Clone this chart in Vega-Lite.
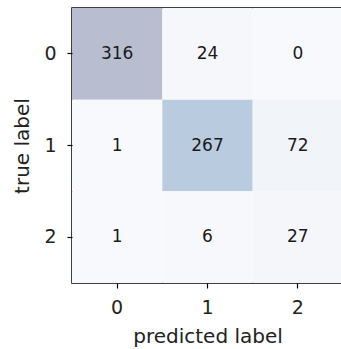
{
  "$schema": "https://vega.github.io/schema/vega-lite/v6.json",
  "width": 271,
  "height": 275,
  "autosize": {"type": "none"},
  "padding": {"left": 72, "top": 8, "right": 0, "bottom": 66},
  "background": "white",
  "data": {"values": [
    {"true": "0", "pred": "0", "count": 316},
    {"true": "0", "pred": "1", "count": 24},
    {"true": "0", "pred": "2", "count": 0},
    {"true": "1", "pred": "0", "count": 1},
    {"true": "1", "pred": "1", "count": 267},
    {"true": "1", "pred": "2", "count": 72},
    {"true": "2", "pred": "0", "count": 1},
    {"true": "2", "pred": "1", "count": 6},
    {"true": "2", "pred": "2", "count": 27}
  ]},
  "encoding": {
    "x": {"field": "pred", "type": "ordinal", "title": "predicted label",
      "scale": {"paddingInner": 0, "paddingOuter": 0},
      "axis": {"labelAngle": 0, "domain": false, "tickColor": "black", "tickSize": 5, "tickWidth": 1.2,
        "labelFontSize": 19, "labelColor": "#222", "labelFont": "DejaVu Sans", "labelPadding": 10,
        "titleFontSize": 20, "titleFont": "DejaVu Sans", "titleFontWeight": "normal", "titleColor": "#222", "titlePadding": 9}},
    "y": {"field": "true", "type": "ordinal", "title": "true label",
      "scale": {"paddingInner": 0, "paddingOuter": 0},
      "axis": {"domain": false, "tickColor": "black", "tickSize": 5, "tickWidth": 1.2,
        "labelFontSize": 19, "labelColor": "#222", "labelFont": "DejaVu Sans", "labelPadding": 11,
        "titleFontSize": 20, "titleFont": "DejaVu Sans", "titleFontWeight": "normal", "titleColor": "#222", "titlePadding": 11}}
  },
  "layer": [
    {"mark": {"type": "rect"},
     "encoding": {"color": {"field": "count", "type": "quantitative", "legend": null,
       "scale": {"domain": [0, 30, 72, 267, 316], "range": ["#f8f9fc", "#f4f6fa", "#f1f4f9", "#b9cbdf", "#b8bdd0"]}}}},
    {"mark": {"type": "text", "fontSize": 17, "font": "DejaVu Sans", "color": "#1a1a1a"},
     "encoding": {"text": {"field": "count", "type": "quantitative"}}}
  ],
  "config": {"view": {"stroke": "black", "strokeWidth": 1.5}}
}
